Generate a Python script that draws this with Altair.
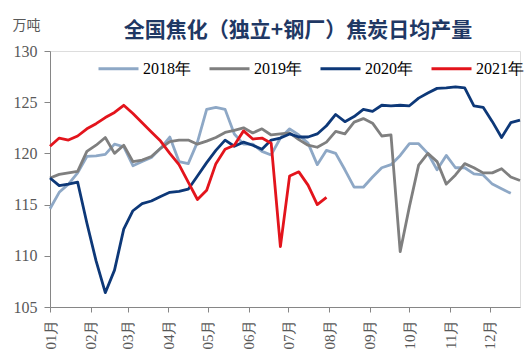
import altair as alt
import pandas as pd

series_names = ["2018年", "2019年", "2020年", "2021年"]
series_colors = ["#8EA8C6", "#7F7F7F", "#0D3878", "#E3141C"]

y2018 = [114.6, 116.2, 117.0, 118.1, 119.7, 119.75, 119.9, 120.9, 120.65, 118.8,
         119.2, 119.6, 120.5, 121.6, 119.2, 119.0, 121.1, 124.3, 124.5, 124.3,
         121.9, 120.9, 120.9, 120.2, 119.85, 121.5, 122.4, 121.8, 121.0, 118.9,
         120.3, 120.0, 118.4, 116.7, 116.7, 117.7, 118.6, 118.9, 119.8, 120.95,
         120.95, 120.0, 118.4, 119.8, 118.6, 118.6, 118.0, 117.9, 117.0, 116.55,
         116.1]
y2019 = [117.6, 117.95, 118.1, 118.25, 120.2, 120.8, 121.55, 120.0, 120.8, 119.2,
         119.35, 119.7, 120.5, 121.15, 121.3, 121.3, 120.9, 121.2, 121.55, 122.05,
         122.25, 122.5, 122.0, 122.4, 121.8, 121.9, 122.0, 121.35, 120.8, 120.6,
         121.1, 122.15, 121.9, 123.05, 123.4, 122.95, 121.7, 121.8, 110.4, 114.8,
         118.85, 120.0, 119.2, 117.0, 117.9, 119.0, 118.6, 118.1, 118.1, 118.5,
         117.7, 117.35]
y2020 = [117.6, 116.85, 117.0, 117.2, 113.2, 109.5, 106.4, 108.6, 112.6, 114.4,
         115.1, 115.35, 115.8, 116.2, 116.3, 116.5, 117.8, 119.1, 120.3, 121.3,
         120.7, 121.1, 120.8, 120.4, 121.3, 121.5, 121.9, 121.6, 121.6, 121.9,
         122.7, 123.8, 123.1, 123.6, 124.3, 124.1, 124.7, 124.65, 124.7, 124.65,
         125.4, 125.9, 126.35, 126.4, 126.5, 126.4, 124.65, 124.5, 123.1, 121.55,
         123.0, 123.25]
y2021 = [120.7, 121.5, 121.3, 121.7, 122.4, 122.9, 123.5, 124.0, 124.7, 123.9,
         123.0, 122.1, 121.2, 120.0, 118.9, 117.2, 115.5, 116.4, 119.0, 120.4,
         120.8, 122.2, 121.4, 121.5, 121.0, 110.9, 117.8, 118.2, 116.9, 115.0,
         115.7]

y_ticks = [105, 110, 115, 120, 125, 130]

start = pd.Timestamp("2019-01-01")
rows = []
for name, vals in zip(series_names, [y2018, y2019, y2020, y2021]):
    for i, v in enumerate(vals):
        d = start + pd.Timedelta(days=7 * i)
        rows.append({"date": d.strftime("%Y-%m-%dT00:00:00"), "year": name, "value": v})
df = pd.DataFrame(rows)

axis_gray = "#868686"
label_gray = "#595959"

chart = alt.Chart(df).mark_line(strokeWidth=2.8, strokeJoin="round").encode(
    x=alt.X(
        "date:T",
        scale=alt.Scale(domain=[alt.DateTime(year=2019, month=1, date=1),
                                alt.DateTime(year=2019, month=12, date=24)]),
        axis=alt.Axis(
            title=None, format="%m月", tickCount={"interval": "month", "step": 1},
            labelAngle=270, labelAlign="right", labelBaseline="middle",
            labelFont="Liberation Serif", labelFontSize=15, labelColor=label_gray,
            labelPadding=7, tickSize=5, tickColor=axis_gray, domainColor=axis_gray,
            grid=False, labelOverlap=False,
        ),
    ),
    y=alt.Y(
        "value:Q",
        scale=alt.Scale(domain=[105, 130], nice=False, zero=False),
        axis=alt.Axis(
            values=y_ticks, title="万吨", titleAngle=0, titleX=-24, titleY=-26,
            titleAlign="center", titleBaseline="middle", titleFont="Noto Sans CJK SC",
            titleFontSize=14, titleFontWeight="normal", titleColor=label_gray,
            labelFont="Liberation Serif", labelFontSize=16, labelColor=label_gray,
            labelPadding=7, tickSize=6, tickColor=axis_gray, domainColor=axis_gray,
            grid=False,
        ),
    ),
    color=alt.Color(
        "year:N",
        scale=alt.Scale(domain=series_names, range=series_colors),
        legend=alt.Legend(
            title=None, orient="none", legendX=47, legendY=-4, direction="horizontal",
            symbolType="stroke", symbolSize=1600, symbolStrokeWidth=3,
            labelFont="Liberation Serif", labelFontSize=16, labelColor="#000000",
            labelOffset=3, columnPadding=12,
        ),
    ),
).properties(
    width=470,
    height=256,
    title=alt.Title(
        "全国焦化（独立+钢厂）焦炭日均产量", font="Noto Sans CJK SC", fontSize=21,
        fontWeight="bold", color="#1F3864", dx=13, dy=38, offset=15, anchor="middle",
        frame="group",
    ),
    autosize=alt.AutoSizeParams(type="none"),
    padding={"left": 42, "top": 43, "right": 4, "bottom": 46},
).configure_view(stroke=None).configure(background="white")

chart.save("out.html", embed_options={"renderer": "svg", "actions": False})
